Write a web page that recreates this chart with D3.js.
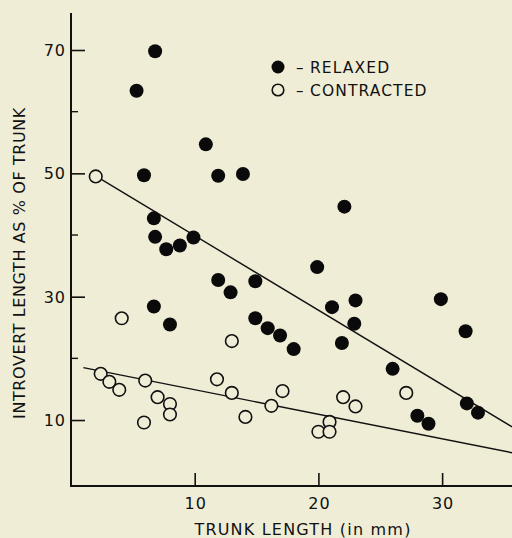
<!DOCTYPE html>
<html>
<head>
<meta charset="utf-8">
<script src="https://d3js.org/d3.v7.min.js"></script>
<style>
  body { margin: 0; background: #f0edd7; }
  text { font-family: "DejaVu Sans", sans-serif; fill: #111; }
</style>
</head>
<body>
<svg width="512" height="538"></svg>
<script>
// relaxed specimens: trunk length (mm), introvert length (% of trunk)
var relaxedX = [6.8, 5.3, 10.9, 5.9, 11.9, 13.9, 6.7, 6.8, 7.7, 8.8, 9.9, 6.7, 8.0, 11.9, 12.9, 14.9, 14.9,
                15.9, 16.9, 18.0, 19.9, 21.1, 22.1, 21.9, 23.0, 22.9, 26.0, 28.0, 28.9, 29.9, 31.9, 32.0, 32.9];
var relaxedY = [69.8, 63.4, 54.7, 49.7, 49.6, 49.9, 42.7, 39.7, 37.7, 38.3, 39.6, 28.4, 25.5, 32.7, 30.7, 32.5, 26.5,
                24.9, 23.7, 21.5, 34.8, 28.3, 44.6, 22.5, 29.4, 25.6, 18.3, 10.7, 9.4, 29.6, 24.4, 12.7, 11.2];

// contracted specimens
var contractedX = [2.0, 4.1, 13.0, 2.4, 3.1, 3.9, 6.0, 7.0, 8.0, 8.0, 5.9, 11.8, 13.0, 14.1, 17.1, 16.2,
                   22.0, 23.0, 20.9, 20.0, 20.9, 27.1];
var contractedY = [49.5, 26.5, 22.8, 17.5, 16.2, 14.9, 16.4, 13.7, 12.6, 10.9, 9.6, 16.6, 14.4, 10.5, 14.7, 12.3,
                   13.7, 12.2, 9.7, 8.1, 8.1, 14.4];

// fitted lines (end points)
var relaxedFit = [[2.05, 49.5], [35.65, 8.9]];
var contractedFit = [[1.0, 18.5], [35.65, 4.7]];

var yTicks = [10, 30, 50, 70];
var yMinor = [20, 40, 60];
var xTicks = [10, 20, 30];

var svg = d3.select("svg");

var x = d3.scaleLinear().domain([0, 35.65]).range([71, 512]);
var y = d3.scaleLinear().domain([0, 70]).range([481.7, 50]);

// axes
var yAxis = d3.axisRight(y).tickValues(yTicks).tickSize(14).tickFormat(d3.format("d"));
var gy = svg.append("g").attr("transform", "translate(71,0)").call(yAxis);
gy.select(".domain").remove();
gy.selectAll(".tick text").remove();
gy.selectAll(".tick line").attr("stroke", "#111").attr("stroke-width", 1.6);

svg.selectAll(".yminor")
    .data(yMinor)
  .enter()
  .append("line")
    .attr("x1", 71).attr("x2", 78)
    .attr("y1", function(d) { return y(d); })
    .attr("y2", function(d) { return y(d); })
    .attr("stroke", "#111").attr("stroke-width", 1.4);

svg.selectAll(".ylab")
    .data(yTicks)
  .enter()
  .append("text")
    .attr("x", 66)
    .attr("y", function(d) { return y(d) + 6; })
    .attr("text-anchor", "end")
    .style("font-size", "16px")
    .style("letter-spacing", "1px")
    .text(function(d) { return d; });

var xAxis = d3.axisTop(x).tickValues(xTicks).tickSize(13);
var gx = svg.append("g").attr("transform", "translate(0,486)").call(xAxis);
gx.select(".domain").remove();
gx.selectAll(".tick text").remove();
gx.selectAll(".tick line").attr("stroke", "#111").attr("stroke-width", 1.6);

svg.selectAll(".xlab")
    .data(xTicks)
  .enter()
  .append("text")
    .attr("x", function(d) { return x(d) + 1; })
    .attr("y", 509)
    .attr("text-anchor", "middle")
    .style("font-size", "16px")
    .style("letter-spacing", "1px")
    .text(function(d) { return d; });

// axis lines
svg.append("line").attr("x1", 71).attr("x2", 71).attr("y1", 13).attr("y2", 486)
    .attr("stroke", "#111").attr("stroke-width", 2);
svg.append("line").attr("x1", 70).attr("x2", 512).attr("y1", 486).attr("y2", 486)
    .attr("stroke", "#111").attr("stroke-width", 2);

// axis titles
svg.append("text")
    .attr("x", 303).attr("y", 535)
    .attr("text-anchor", "middle")
    .style("font-size", "16px")
    .style("letter-spacing", "1.2px")
    .text("TRUNK LENGTH (in mm)");

svg.append("text")
    .attr("transform", "translate(25,263) rotate(-90)")
    .attr("text-anchor", "middle")
    .style("font-size", "16px")
    .style("letter-spacing", "0.6px")
    .text("INTROVERT LENGTH AS % OF TRUNK");

// fit lines
var line = d3.line().x(function(d) { return x(d[0]); }).y(function(d) { return y(d[1]); });
[relaxedFit, contractedFit].forEach(function(f) {
  svg.append("path").attr("d", line(f)).attr("fill", "none")
      .attr("stroke", "#111").attr("stroke-width", 1.4);
});

// points
svg.selectAll(".relaxed")
    .data(relaxedX)
  .enter()
  .append("circle")
    .attr("cx", function(d) { return x(d); })
    .attr("cy", function(d, i) { return y(relaxedY[i]); })
    .attr("r", 7)
    .attr("fill", "#0a0a0a");

svg.selectAll(".contracted")
    .data(contractedX)
  .enter()
  .append("circle")
    .attr("cx", function(d) { return x(d); })
    .attr("cy", function(d, i) { return y(contractedY[i]); })
    .attr("r", 6.3)
    .attr("fill", "#f0edd7")
    .attr("stroke", "#111")
    .attr("stroke-width", 1.6);

// legend
svg.append("circle").attr("cx", 278).attr("cy", 67).attr("r", 6.5).attr("fill", "#0a0a0a");
svg.append("circle").attr("cx", 278).attr("cy", 90).attr("r", 5.8)
    .attr("fill", "none").attr("stroke", "#111").attr("stroke-width", 1.6);
[["RELAXED", 73], ["CONTRACTED", 96]].forEach(function(l) {
  svg.append("text").attr("x", 296).attr("y", l[1]).style("font-size", "15px").text("\u2013");
  svg.append("text").attr("x", 310).attr("y", l[1]).style("font-size", "15.5px")
      .style("letter-spacing", "1.1px").text(l[0]);
});
</script>
</body>
</html>
